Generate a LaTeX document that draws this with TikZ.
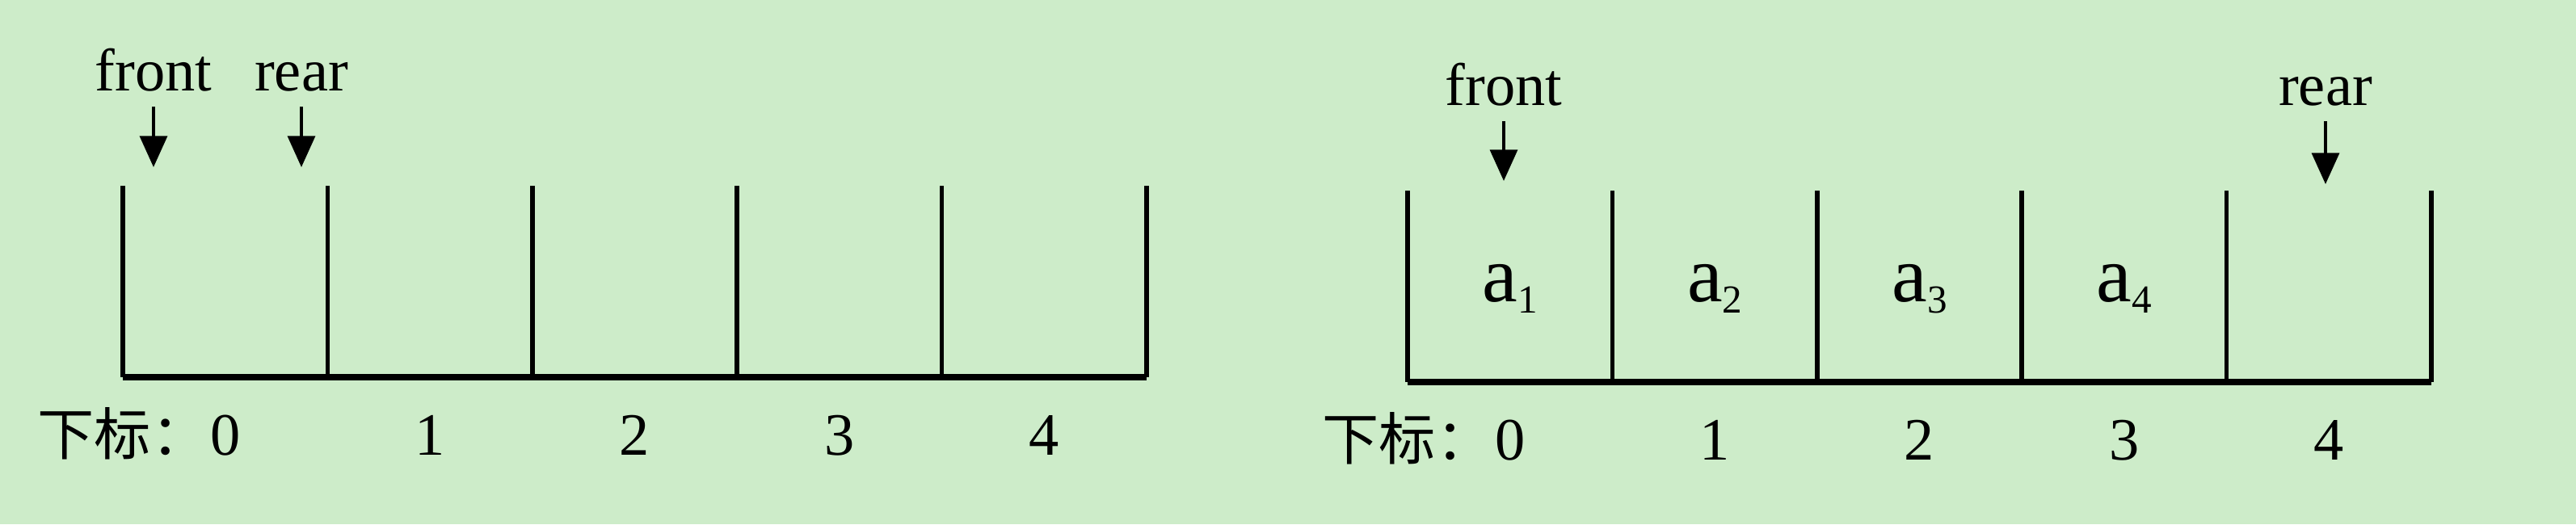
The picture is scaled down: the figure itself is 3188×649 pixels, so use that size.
\documentclass[tikz,border=0pt]{standalone}
\usepackage{fontspec}
\setmainfont{Liberation Serif}
\newfontfamily\cjk{Noto Sans CJK SC}
\usetikzlibrary{arrows.meta, positioning}
\definecolor{bgreen}{RGB}{205,236,201}
\newcommand{\elem}[1]{a\raisebox{-0.15em}{\fontsize{7}{8}\selectfont #1}}
\tikzset{
  wall/.style={line width=0.8pt},
  floor/.style={line width=1.2pt},
  ptr/.style={-{Triangle[length=5.5pt,width=4.8pt]}, line width=0.6pt, shorten <=0.09cm},
  tag/.style={inner sep=0pt, anchor=base, font=\fontsize{10.6}{12}\selectfont},
  idxname/.style={inner sep=0pt, anchor=base east, font=\fontsize{10}{12}\cjk},
  elemtext/.style={inner sep=0pt, anchor=base, font=\fontsize{14}{16}\selectfont},
}

\begin{document}
\begin{tikzpicture}[x=0.005cm, y=-0.005cm]
  \fill[bgreen] (0,0) rectangle (3188,649);
  \useasboundingbox (0,0) rectangle (3188,649);
  % empty queue
  \begin{scope}
    \foreach \i in {0,...,5}
      \draw[wall] (152+253.4*\i,230) -- (152+253.4*\i,467);
    \draw[floor] (152,467) -- (1419,467);
    \foreach \i in {0,...,4}
      \node[tag] (li\i) at (278.7+253.4*\i,563) {\i};
    \node[idxname] (lidx) at (li0.base west) {下标：};
    \node[tag] (lfront) at (190,112) {front};
    \node[tag] (lrear) at (373,112) {rear};
    \coordinate (lftip) at (190,207);
    \coordinate (lrtip) at (373,207);
    \draw[ptr] (lfront.south) -- (lftip);
    \draw[ptr] (lrear.south) -- (lrtip);
  \end{scope}
  % queue holding a1..a4
  \begin{scope}[shift={(1590,6)}]
    \foreach \i in {0,...,5}
      \draw[wall] (152+253.4*\i,230) -- (152+253.4*\i,467);
    \draw[floor] (152,467) -- (1419,467);
    \foreach \i in {1,...,4}
      \node[elemtext] (e\i) at (278.7+253.4*\i-253.4,367) {\elem{\i}};
    \foreach \i in {0,...,4}
      \node[tag] (ri\i) at (278.7+253.4*\i,563) {\i};
    \node[idxname] (ridx) at (ri0.base west) {下标：};
    \node[tag] (rfront) at (271,124) {front};
    \node[tag] (rrear) at (1288,124) {rear};
    \coordinate (rftip) at (271,218);
    \coordinate (rrtip) at (1288,222);
    \draw[ptr] (rfront.south) -- (rftip);
    \draw[ptr] (rrear.south) -- (rrtip);
  \end{scope}
\end{tikzpicture}
\end{document}
